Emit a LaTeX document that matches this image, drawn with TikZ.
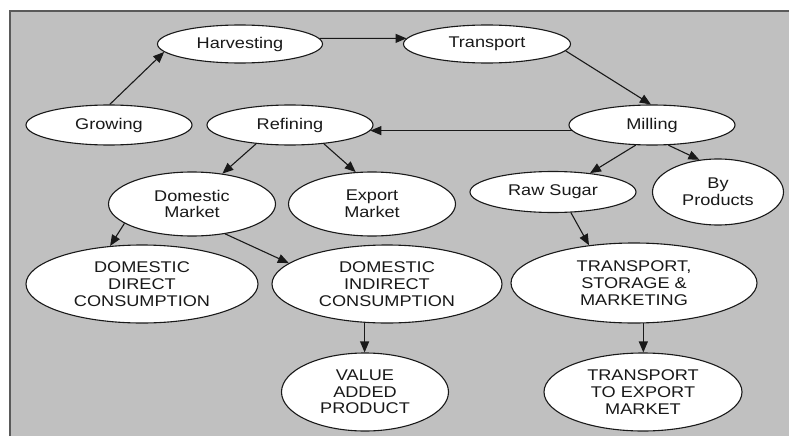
\documentclass[tikz,border=0pt]{standalone}
\usepackage{fontspec}
\setmainfont{Liberation Sans}[FakeStretch=1.17]
\usetikzlibrary{shapes.geometric,arrows.meta}
\definecolor{bggray}{RGB}{192,192,192}
\definecolor{framegray}{RGB}{90,90,90}
\definecolor{inkgray}{RGB}{25,25,25}
\begin{document}
\begin{tikzpicture}[x=1pt,y=-1pt,
  box/.style={ellipse, draw=inkgray, fill=white, line width=1.1pt, inner sep=0pt,
    align=center, text=inkgray, font=\fontsize{15.5pt}{16.7pt}\selectfont},
  arr/.style={-{Triangle[length=11pt,width=9pt]}, line width=1.1pt, draw=inkgray}]
\useasboundingbox (0,0) rectangle (789,436);
\fill[white] (0,0) rectangle (789,436);
\fill[bggray] (10,11) rectangle (789,436);
\draw[framegray, line width=1.2pt] (10,436) -- (10,11) -- (789,11);

\node[box, minimum width=165pt, minimum height=38pt] (harv) at (240,44) {Harvesting};
\node[box, minimum width=167pt, minimum height=38pt] (trans) at (487,44) {Transport};
\node[box, minimum width=166pt, minimum height=40pt] (grow) at (109,125) {Growing};
\node[box, minimum width=166pt, minimum height=40pt] (ref) at (290,125) {Refining};
\node[box, minimum width=166pt, minimum height=40pt] (mill) at (652,125) {Milling};
\node[box, minimum width=167pt, minimum height=64pt] (dm) at (192,204) {Domestic\\Market};
\node[box, minimum width=167pt, minimum height=64pt] (em) at (372,204) {Export\\Market};
\node[box, minimum width=166pt, minimum height=41pt] (rs) at (553,192) {Raw Sugar};
\node[box, minimum width=131pt, minimum height=66pt] (bp) at (718,192) {By\\Products};
\node[box, minimum width=232pt, minimum height=78pt] (ddc) at (142,284) {DOMESTIC\\DIRECT\\CONSUMPTION};
\node[box, minimum width=230pt, minimum height=78pt] (dic) at (387,284) {DOMESTIC\\INDIRECT\\CONSUMPTION};
\node[box, minimum width=246pt, minimum height=80pt] (tsm) at (634,283) {TRANSPORT,\\STORAGE \&\\MARKETING};
\node[box, minimum width=167pt, minimum height=78pt] (vap) at (365,392) {VALUE\\ADDED\\PRODUCT};
\node[box, minimum width=198pt, minimum height=78pt] (tem) at (643,392) {TRANSPORT\\TO EXPORT\\MARKET};

\draw[arr] (grow.88) -- (harv.186);
\draw[arr] (harv.4) -- (trans.176);
\draw[arr] (trans.-5) -- (mill.93);
\draw[arr] (mill.184) -- (ref.356);
\draw[arr] (ref.209) -- (dm.45);
\draw[arr] (ref.331) -- (em.117);
\draw[arr] (mill.231) -- (rs.27);
\draw[arr] (mill.309) -- (bp.120);
\draw[arr] (dm.196) -- (ddc.130);
\draw[arr] (dm.318) -- (dic.168);
\draw[arr] (dic.240) -- (vap.north -| dic.240);
\draw[arr] (rs.311) -- (tsm.140);
\draw[arr] (tsm.283) -- (tem.north -| tsm.283);
\end{tikzpicture}
\end{document}
